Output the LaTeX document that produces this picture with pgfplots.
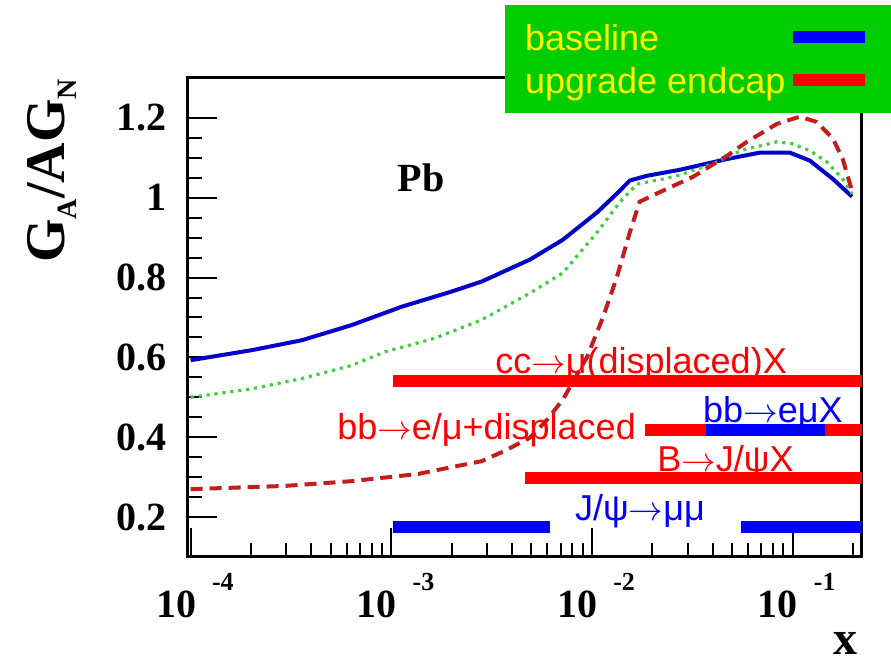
\documentclass[border=0pt]{standalone}
\usepackage{pgfplots}
\pgfplotsset{compat=1.18}
\usepackage{fontspec}
\setmainfont{Liberation Sans}
\newfontfamily\timesfont{Liberation Serif}

\definecolor{curveblue}{RGB}{0,0,200}
\definecolor{curvegreen}{RGB}{70,205,70}
\definecolor{curvered}{RGB}{195,30,30}
\definecolor{legendgreen}{RGB}{0,204,0}

% ROOT-style "10^-n" label: "10" ends at the tick, exponent raised to the right
\newcommand{\tlab}[1]{\makebox[0pt][r]{10}\kern8pt\raisebox{13.3pt}{\fontsize{13}{13}\selectfont -#1}}
\newcommand{\annfont}{\fontsize{18}{18}\selectfont}
\newcommand{\arr}{$\rightarrow$}

\begin{document}
\begin{tikzpicture}
\begin{axis}[
  at={(0pt,0pt)}, anchor=south west,
  scale only axis, width=337pt, height=239.5pt,
  xmode=log, log basis x=10,
  xmin=0.97e-4, xmax=0.222,
  ymin=0.1, ymax=1.3,
  axis line style={line width=1.5pt},
  tick style={line width=1pt, black},
  major tick length=14.5pt, minor tick length=7pt,
  tick align=inside, tick pos=left,
  xtick={1e-4,1e-3,1e-2,1e-1},
  minor xtick={2e-4,3e-4,4e-4,5e-4,6e-4,7e-4,8e-4,9e-4,
               2e-3,3e-3,4e-3,5e-3,6e-3,7e-3,8e-3,9e-3,
               2e-2,3e-2,4e-2,5e-2,6e-2,7e-2,8e-2,9e-2,0.2},
  xticklabels={\tlab{4},\tlab{3},\tlab{2},\tlab{1}},
  xticklabel style={anchor=north west, inner sep=0pt, xshift=2.5pt, yshift=-8pt,
    font=\timesfont\bfseries\fontsize{20}{20}\selectfont},
  ytick={0.2,0.4,0.6,0.8,1,1.2},
  yticklabels={0.2,0.4,0.6,0.8,1,1.2},
  minor y tick num=3,
  yticklabel style={anchor=east, inner sep=0pt, xshift=-10.5pt,
    font=\timesfont\bfseries\fontsize{20}{20}\selectfont},
  ylabel={G\raisebox{-6pt}{\fontsize{14}{14}\selectfont A}/AG\raisebox{-6pt}{\fontsize{14}{14}\selectfont N}},
  ylabel style={at={(axis description cs:-0.2018,0.806)}, anchor=center,
    font=\timesfont\bfseries\fontsize{28}{28}\selectfont},
  xlabel={x},
  xlabel style={at={(axis description cs:0.975,-0.18)}, anchor=center,
    font=\timesfont\bfseries\fontsize{24}{24}\selectfont},
  legend style={at={(axis description cs:0.470,1.1524)}, anchor=north west,
    fill=legendgreen, draw=none, text=yellow, font=\annfont,
    inner xsep=10pt, inner ysep=6pt, row sep=1pt,
    nodes={inner sep=0pt, text height=16.5pt, text depth=4pt}},
  legend plot pos=right, legend cell align=left,
  legend image code/.code={\draw[#1, line width=6pt] (0pt,0.5pt) -- (36pt,0.5pt);},
]
% nuclear gluon ratios
\addplot[curveblue, line width=2pt, forget plot] coordinates {
  (1e-4,0.593) (2.01e-4,0.618) (3.58e-4,0.643) (6.35e-4,0.681) (1.127e-3,0.727)
  (2.0e-3,0.765) (2.82e-3,0.790) (4.91e-3,0.845) (7.18e-3,0.895) (1.06e-2,0.963)
  (1.33e-2,1.010) (1.545e-2,1.043) (1.88e-2,1.055) (2.74e-2,1.070) (4.71e-2,1.097)
  (6.87e-2,1.113) (9.7e-2,1.113) (0.122,1.093) (0.159,1.047) (0.198,1.003)};
\addplot[curvegreen, line width=1.6pt, dash pattern=on 1.6pt off 2.4pt, forget plot] coordinates {
  (1e-4,0.500) (2.01e-4,0.521) (3.58e-4,0.547) (6.35e-4,0.580) (9.31e-4,0.614)
  (1.65e-3,0.648) (2.82e-3,0.694) (4.91e-3,0.761) (7.18e-3,0.812) (1.06e-2,0.913)
  (1.38e-2,0.989) (1.675e-2,1.034) (2.26e-2,1.047) (2.74e-2,1.057) (4.0e-2,1.085)
  (5.65e-2,1.120) (8.36e-2,1.140) (0.1,1.135) (0.122,1.118) (0.148,1.090)
  (0.178,1.047) (0.198,1.010)};
\addplot[curvered, line width=2pt, dash pattern=on 6pt off 3.5pt, forget plot] coordinates {
  (1e-4,0.270) (2.95e-4,0.278) (6.35e-4,0.290) (1.36e-3,0.308) (1.95e-3,0.324)
  (2.82e-3,0.340) (3.68e-3,0.366) (4.91e-3,0.399) (5.94e-3,0.442) (7.18e-3,0.495)
  (9.44e-3,0.600) (1.135e-2,0.700) (1.33e-2,0.800) (1.545e-2,0.913) (1.73e-2,0.990)
  (2.2e-2,1.015) (3.18e-2,1.052) (4.71e-2,1.105) (5.92e-2,1.140) (8.36e-2,1.185)
  (0.1086,1.203) (0.132,1.190) (0.159,1.148) (0.178,1.097) (0.198,1.017)};

% x coverage bars
\addplot[red, line width=6pt, forget plot] coordinates {(1.02e-3,0.540) (0.222,0.540)};
\addplot[red, line width=6pt, forget plot] coordinates {(1.836e-2,0.418) (0.222,0.418)};
\addplot[blue, line width=6pt, forget plot] coordinates {(3.69e-2,0.418) (0.146,0.418)};
\addplot[red, line width=6pt, forget plot] coordinates {(4.64e-3,0.297) (0.222,0.297)};
\addplot[blue, line width=6pt, forget plot] coordinates {(1.02e-3,0.176) (6.17e-3,0.176)};
\addplot[blue, line width=6pt, forget plot] coordinates {(5.52e-2,0.176) (0.222,0.176)};

\addlegendimage{blue}
\addlegendentry{\makebox[131pt][l]{baseline}}
\addlegendimage{red}
\addlegendentry{\makebox[131pt][l]{upgrade endcap}}

\node[red, anchor=base west, inner sep=0pt, font=\annfont] at (axis cs:3.29e-3,0.560) {cc\arr μ(displaced)X};
\node[red, anchor=base west, inner sep=0pt, font=\annfont] at (axis cs:5.36e-4,0.394) {bb\arr e/μ+displaced};
\node[blue, anchor=base west, inner sep=0pt, font=\annfont] at (axis cs:3.57e-2,0.437) {bb\arr eμX};
\node[red, anchor=base west, inner sep=0pt, font=\annfont] at (axis cs:2.11e-2,0.315) {B\arr J/ψX};
\node[blue, anchor=base west, inner sep=0pt, font=\annfont] at (axis cs:8.22e-3,0.191) {J/ψ\arr μμ};
\node[red, anchor=base east, inner sep=0pt, font=\annfont] at (axis description cs:-0.2686,0.3486) {X};

\node[anchor=center, font=\timesfont\bfseries\fontsize{20}{20}\selectfont] at (axis description cs:0.3457,0.791) {Pb};
\end{axis}
\pgfresetboundingbox
\path[use as bounding box] (-94pt,-53.5pt) rectangle (351.5pt,278.5pt);
\end{tikzpicture}
\end{document}
